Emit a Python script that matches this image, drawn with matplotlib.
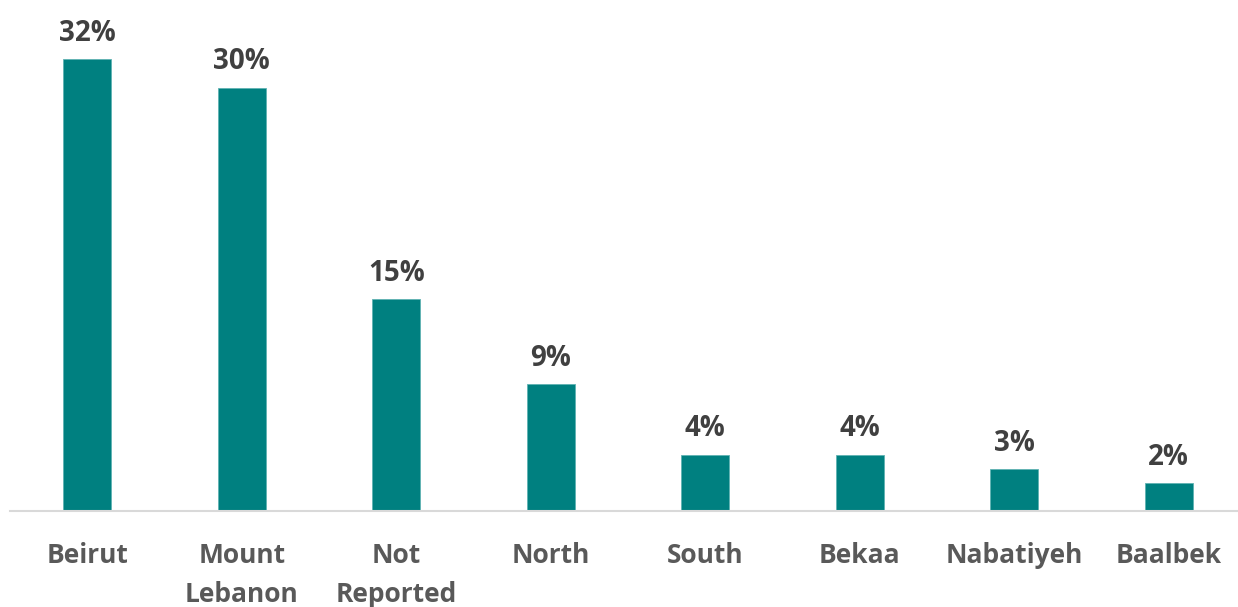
import matplotlib.pyplot as plt

# Data
regions = ['Beirut', 'Mount\nLebanon', 'Not\nReported', 'North', 'South', 'Bekaa', 'Nabatiyeh', 'Baalbek']
shares = [32, 30, 15, 9, 4, 4, 3, 2]

bar_color = '#008080'
label_color = '#404040'
tick_color = '#595959'

plt.rcParams['font.family'] = ['Open Sans', 'DejaVu Sans']

fig = plt.figure(figsize=(12.38, 6.07), dpi=100)
ax = fig.add_axes([10 / 1238, 96 / 607, 1236 / 1238, 511 / 607])

x = range(len(regions))
bars = ax.bar(x, shares, width=0.31, color=bar_color, edgecolor='#5fb3b3', linewidth=0.6)

for rect, val in zip(bars, shares):
    ax.annotate(f'{val}%', (rect.get_x() + rect.get_width() / 2, rect.get_height()),
                xytext=(0, 8), textcoords='offset points', ha='center', va='bottom',
                fontsize=20, fontweight='bold', color=label_color)

ax.set_xlim(-0.5, len(regions) - 0.5)
ax.set_ylim(0, 36.2)
ax.set_xticks(list(x))
ax.set_xticklabels(regions, fontsize=19, fontweight='bold', color=tick_color, linespacing=1.6)
ax.tick_params(axis='x', length=0, pad=22)
ax.set_yticks([])

for side in ['top', 'right', 'left']:
    ax.spines[side].set_visible(False)
ax.spines['bottom'].set_color('#d9d9d9')
ax.spines['bottom'].set_linewidth(1.5)

fig.savefig('out.png', dpi=100)
